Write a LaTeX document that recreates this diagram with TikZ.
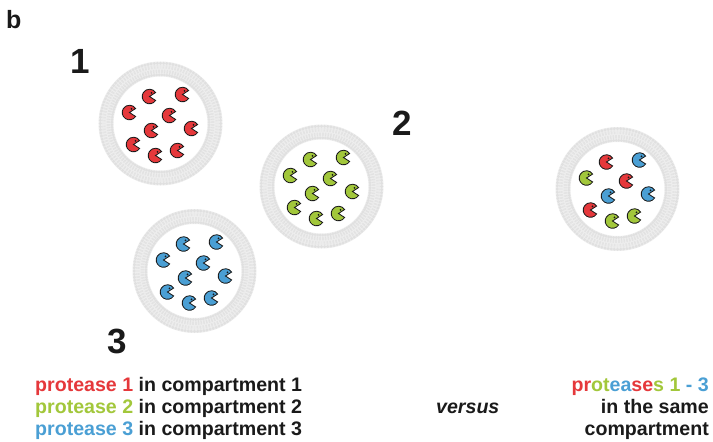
\documentclass[tikz,border=0pt]{standalone}
\usepackage{fontspec}
\usetikzlibrary{calc}
\setmainfont{Liberation Sans}
\definecolor{pred}{HTML}{E5383B}
\definecolor{pgreen}{HTML}{A2C73B}
\definecolor{pblue}{HTML}{4A9FD4}
\definecolor{lipid}{HTML}{E0E0E0}
\definecolor{ink}{HTML}{1A1A1A}

\tikzset{
  pics/pacman/.style={code={
    \fill[#1, draw=ink, line width=0.85pt]
      (0,0) -- (33:7.3) arc[start angle=33, end angle=327, radius=7.3] -- cycle;
    \fill[ink] (2.0,-3.6) circle[radius=0.95];
  }},
  pics/membrane/.style={code={
    % bilayer band
    \fill[lipid!55, even odd rule] (0,0) circle[radius=62] (0,0) circle[radius=47];
    \foreach \a in {0,3,...,357}{
      \fill[lipid] (\a:60.3) circle[radius=1.6];
      \fill[lipid] (\a+1.5:48.7) circle[radius=1.5];
      \draw[lipid, line width=0.45pt] (\a-0.5:58.5) -- (\a-0.5:55) (\a+0.5:58.5) -- (\a+0.5:55);
      \draw[lipid, line width=0.45pt] (\a+1:50.3) -- (\a+1:54) (\a+2:50.3) -- (\a+2:54);
    }
  }},
  bignum/.style={font=\fontsize{35}{35}\selectfont\bfseries, inner sep=0pt, anchor=base},
  label/.style={font=\fontsize{19.6}{21}\selectfont\bfseries, inner sep=0pt, text=ink},
}

\begin{document}
\begin{tikzpicture}[x=1pt, y=-1pt]
  \useasboundingbox (0,0) rectangle (713,442);

  % compartments
  \pic at (160.5,123.5) {membrane};
  \pic at (321.5,186.5) {membrane};
  \pic at (194.5,271) {membrane};
  \pic at (617.5,189) {membrane};

  % protease positions inside a compartment
  \def\spots{-11/-27, 22/-29, -31/-11, 9/-8, -9/7, 31/5, -27/21, -5/32, 17/27}

  \foreach \dx/\dy in \spots { \pic at ($(160.5,123.5)+(\dx,\dy)$) {pacman=pred}; }
  \foreach \dx/\dy in \spots { \pic at ($(321.5,186.5)+(\dx,\dy)$) {pacman=pgreen}; }
  \foreach \dx/\dy in \spots { \pic at ($(194.5,271)+(\dx,\dy)$) {pacman=pblue}; }

  % mixed compartment
  \foreach \dx/\dy/\c in {-11/-27/pred, 22/-29/pblue, -31/-11/pgreen, 9/-8/pred,
                         -9/7/pblue, 31/5/pblue, -27/21/pred, -5/32/pgreen, 17/27/pgreen}
    { \pic at ($(617.5,189)+(\dx,\dy)$) {pacman=\c}; }

  % panel letter and compartment numbers
  \node[font=\fontsize{25}{25}\selectfont\bfseries, inner sep=0pt, anchor=base west, text=ink] (panel) at (6,28) {b};
  \node[bignum, text=ink] (n1) at (80,73) {1};
  \node[bignum, text=ink] (n2) at (402,135) {2};
  \node[bignum, text=ink] (n3) at (117,353) {3};

  % captions
  \node[label, anchor=base west] (l1) at (35,391) {\textcolor{pred}{protease 1} in compartment 1};
  \node[label, anchor=base west] (l2) at (35,413) {\textcolor{pgreen}{protease 2} in compartment 2};
  \node[label, anchor=base west] (l3) at (35,435) {\textcolor{pblue}{protease 3} in compartment 3};

  \node[label, anchor=base west, font=\fontsize{19.6}{21}\selectfont\bfseries\itshape] (vs) at (436,413) {versus};

  \node[label, anchor=base east] (r1) at (709,391)
    {\textcolor{pred}{pr}\textcolor{pgreen}{ot}\textcolor{pblue}{ea}\textcolor{pred}{se}\textcolor{pgreen}{s 1} \textcolor{pblue}{- 3}};
  \node[label, anchor=base east] (r2) at (709,413) {in the same};
  \node[label, anchor=base east] (r3) at (709,435) {compartment};
\end{tikzpicture}
\end{document}
